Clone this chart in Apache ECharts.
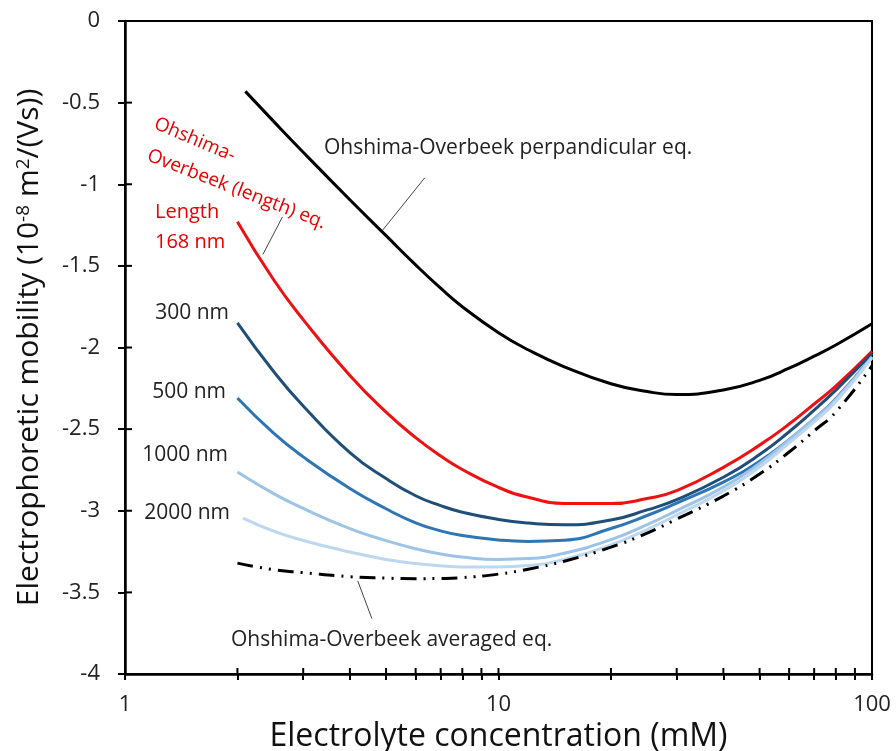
<!DOCTYPE html>
<html>
<head>
<meta charset="utf-8">
<script src="https://cdn.jsdelivr.net/npm/echarts@6/dist/echarts.min.js"></script>
<style>
  html, body { margin: 0; padding: 0; background: #fff; }
  #main { width: 896px; height: 751px; }
</style>
</head>
<body>
<div id="main"></div>
<script>
// electrolyte concentration (mM)
var conc = [2, 2.5, 3, 4, 5, 6, 7, 8, 10, 12, 15, 20, 25, 30, 40, 50, 60, 70, 80, 100];
var concPerp = [2.1].concat(conc.slice(1));
var conc2000 = [2.07].concat(conc.slice(1));

// mobility (10^-8 m2/(Vs))
var perp = [-0.431, -0.615, -0.804, -1.095, -1.315, -1.494, -1.637, -1.750, -1.909, -2.014, -2.118, -2.222, -2.270, -2.288, -2.260, -2.201, -2.127, -2.053, -1.985, -1.855];
var len168 = [-1.229, -1.585, -1.829, -2.171, -2.396, -2.552, -2.664, -2.747, -2.857, -2.917, -2.955, -2.956, -2.925, -2.877, -2.734, -2.598, -2.469, -2.346, -2.237, -2.024];
var len300 = [-1.849, -2.147, -2.358, -2.644, -2.803, -2.908, -2.969, -3.009, -3.053, -3.075, -3.086, -3.057, -2.995, -2.932, -2.795, -2.656, -2.516, -2.384, -2.261, -2.037];
var len500 = [-2.309, -2.525, -2.670, -2.864, -2.988, -3.074, -3.123, -3.152, -3.179, -3.188, -3.181, -3.109, -3.029, -2.953, -2.825, -2.697, -2.564, -2.437, -2.314, -2.056];
var len1000 = [-2.763, -2.895, -2.986, -3.109, -3.183, -3.233, -3.265, -3.284, -3.298, -3.293, -3.260, -3.177, -3.085, -2.999, -2.855, -2.710, -2.566, -2.437, -2.318, -2.057];
var len2000 = [-3.045, -3.125, -3.182, -3.253, -3.298, -3.323, -3.337, -3.344, -3.345, -3.336, -3.299, -3.210, -3.115, -3.026, -2.879, -2.732, -2.585, -2.456, -2.333, -2.063];
var averaged = [-3.321, -3.361, -3.379, -3.404, -3.413, -3.416, -3.415, -3.410, -3.388, -3.358, -3.309, -3.223, -3.137, -3.051, -2.910, -2.775, -2.640, -2.511, -2.395, -2.112];

// tick positions
var xTicks = [1, 2, 3, 4, 5, 6, 7, 8, 9, 10, 20, 30, 40, 50, 60, 70, 80, 90, 100];
var xTickDecades = xTicks.map(function (v) { return Math.log10(v); });
var yTicks = [-4, -3.5, -3, -2.5, -2, -1.5, -1, -0.5, 0];

var font = "'Open Sans', 'Noto Sans', sans-serif";

function pairs(xs, ys) {
    return xs.map(function (x, i) { return [x, ys[i]]; });
}

function leader(from, to) {
    return {
        silent: true,
        symbol: ['none', 'none'],
        label: { show: false },
        lineStyle: { color: '#444', width: 1, type: 'solid' },
        data: [[{ coord: from }, { coord: to }]]
    };
}

// inner half of a crossing tick mark, drawn through the axes' own scales
function innerTick(dx, dy) {
    return function (params, api) {
        var p = api.coord([api.value(0), api.value(1)]);
        return {
            type: 'line',
            shape: { x1: p[0], y1: p[1], x2: p[0] + dx, y2: p[1] + dy },
            style: { stroke: '#000', lineWidth: 2 }
        };
    };
}

var chart = echarts.init(document.getElementById('main'));

chart.setOption({
    animation: false,
    grid: {
        left: 125, right: 24, top: 21, bottom: 77,
        show: true, borderColor: '#000', borderWidth: 2,
        outerBoundsMode: 'none'
    },
    xAxis: [
        {
            type: 'log', logBase: 10, min: 1, max: 100,
            name: 'Electrolyte concentration (mM)',
            nameLocation: 'middle', nameGap: 40,
            nameTextStyle: { fontFamily: font, fontSize: 32, color: '#111' },
            axisLine: { onZero: false, lineStyle: { color: '#000', width: 2.5 } },
            axisTick: { show: false },
            axisLabel: { fontFamily: font, fontSize: 22, color: '#222', margin: 20 },
            splitLine: { show: false }
        },
        {
            // decade axis only used for the outer tick marks
            type: 'value', min: 0, max: 2, position: 'bottom',
            axisLine: { show: true, onZero: false, lineStyle: { color: 'rgba(0,0,0,0)' } },
            axisTick: { show: true, length: 6, lineStyle: { color: '#000', width: 2 }, customValues: xTickDecades },
            axisLabel: { show: false },
            splitLine: { show: false }
        }
    ],
    yAxis: {
        type: 'value', min: -4, max: 0, interval: 0.5,
        name: 'Electrophoretic mobility (10{sup|-8} m{sup|2}/(Vs))',
        nameLocation: 'middle', nameGap: 80,
        nameTextStyle: {
            fontFamily: font, fontSize: 30, color: '#111',
            rich: { sup: { fontFamily: font, fontSize: 19, color: '#111', verticalAlign: 'top', padding: [0, 0, 12, 0] } }
        },
        axisLine: { onZero: false, lineStyle: { color: '#000', width: 2.5 } },
        axisTick: { show: true, length: 7, lineStyle: { color: '#000', width: 2 } },
        axisLabel: { fontFamily: font, fontSize: 22, color: '#222', margin: 25 },
        splitLine: { show: false }
    },
    series: [
        {
            name: 'perpendicular', type: 'line', smooth: true, showSymbol: false,
            data: pairs(concPerp, perp),
            lineStyle: { color: '#000', width: 3 },
            markLine: leader([4.9, -1.28], [6.35, -0.96])
        },
        {
            name: '168 nm', type: 'line', smooth: true, showSymbol: false,
            data: pairs(conc, len168),
            lineStyle: { color: '#ee1111', width: 3 },
            markLine: leader([2.34, -1.43], [2.64, -1.2])
        },
        {
            name: '300 nm', type: 'line', smooth: true, showSymbol: false,
            data: pairs(conc, len300),
            lineStyle: { color: '#1f4e79', width: 3 }
        },
        {
            name: '500 nm', type: 'line', smooth: true, showSymbol: false,
            data: pairs(conc, len500),
            lineStyle: { color: '#2e75b6', width: 3 }
        },
        {
            name: '1000 nm', type: 'line', smooth: true, showSymbol: false,
            data: pairs(conc, len1000),
            lineStyle: { color: '#9dc3e6', width: 3 }
        },
        {
            name: '2000 nm', type: 'line', smooth: true, showSymbol: false,
            data: pairs(conc2000, len2000),
            lineStyle: { color: '#bdd7ee', width: 3 }
        },
        {
            name: 'averaged', type: 'line', smooth: true, showSymbol: false,
            data: pairs(conc, averaged),
            lineStyle: { color: '#000', width: 3, type: [16, 7, 2, 7, 2, 7] },
            markLine: leader([4.2, -3.43], [4.58, -3.66])
        },
        {
            name: 'x inner ticks', type: 'custom', silent: true, clip: false, z: 10,
            data: xTicks.map(function (v) { return [v, -4]; }),
            renderItem: innerTick(0, -6)
        },
        {
            name: 'y inner ticks', type: 'custom', silent: true, clip: false, z: 10,
            data: yTicks.map(function (v) { return [1, v]; }),
            renderItem: innerTick(7, 0)
        }
    ],
    graphic: [
        { type: 'text', x: 324, y: 148, style: { text: 'Ohshima-Overbeek perpandicular eq.', font: '21px ' + font, fill: '#222', verticalAlign: 'middle' } },
        { type: 'text', x: 155, y: 123, rotation: -0.40, style: { text: 'Ohshima-', font: '19px ' + font, fill: '#e60000', verticalAlign: 'middle' } },
        { type: 'text', x: 148, y: 155, rotation: -0.37, style: { text: 'Overbeek (length) eq.', font: '19px ' + font, fill: '#e60000', verticalAlign: 'middle' } },
        { type: 'text', x: 155, y: 212, style: { text: 'Length', font: '20px ' + font, fill: '#e60000', verticalAlign: 'middle' } },
        { type: 'text', x: 155, y: 242, style: { text: '168 nm', font: '20px ' + font, fill: '#e60000', verticalAlign: 'middle' } },
        { type: 'text', x: 229, y: 313, style: { text: '300 nm', font: '21px ' + font, fill: '#222', align: 'right', verticalAlign: 'middle' } },
        { type: 'text', x: 226, y: 392, style: { text: '500 nm', font: '21px ' + font, fill: '#222', align: 'right', verticalAlign: 'middle' } },
        { type: 'text', x: 228, y: 455, style: { text: '1000 nm', font: '21px ' + font, fill: '#222', align: 'right', verticalAlign: 'middle' } },
        { type: 'text', x: 230, y: 513, style: { text: '2000 nm', font: '21px ' + font, fill: '#222', align: 'right', verticalAlign: 'middle' } },
        { type: 'text', x: 231, y: 640, style: { text: 'Ohshima-Overbeek averaged eq.', font: '21px ' + font, fill: '#222', verticalAlign: 'middle' } }
    ]
});
</script>
</body>
</html>
